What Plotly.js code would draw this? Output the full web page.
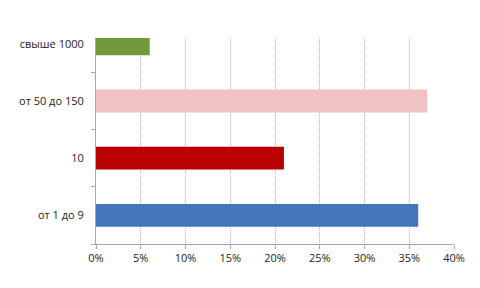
<!DOCTYPE html>
<html>
<head>
<meta charset="utf-8">
<script src="https://cdn.plot.ly/plotly-3.0.1.min.js"></script>
<style>
  html, body { margin: 0; padding: 0; background: #fff; }
  #chart { width: 480px; height: 288px; }
</style>
</head>
<body>
<div id="chart"></div>
<script>
// Categories listed bottom to top
const categories = ["от 1 до 9", "10", "от 50 до 150", "свыше 1000"];
const shares = [0.36, 0.21, 0.37, 0.06];
const fillColors = ["#4576BA", "#BA0000", "#F0C2C2", "#72983A"];
const tickValues = [0, 0.05, 0.10, 0.15, 0.20, 0.25, 0.30, 0.35, 0.40];
const tickLabels = ["0%", "5%", "10%", "15%", "20%", "25%", "30%", "35%", "40%"];

const trace = {
  type: "bar",
  orientation: "h",
  x: shares,
  y: categories,
  width: 0.4,
  marker: {
    color: fillColors,
    line: { width: 0 }
  },
  hoverinfo: "skip"
};

const axisFont = { family: "Open Sans, Liberation Sans, sans-serif", size: 11, color: "#222" };

const layout = {
  width: 480,
  height: 288,
  margin: { l: 96, r: 26, t: 38, b: 44, pad: 0 },
  paper_bgcolor: "#fff",
  plot_bgcolor: "#fff",
  showlegend: false,
  font: axisFont,
  xaxis: {
    range: [0, 0.40],
    tickvals: tickValues,
    ticktext: tickLabels,
    showgrid: true,
    gridcolor: "#B4B4B4",
    gridwidth: 1,
    griddash: "1px,1px",
    zeroline: false,
    showline: true,
    linecolor: "#A6A6A6",
    linewidth: 1,
    ticks: "outside",
    ticklen: 4,
    tickcolor: "#A6A6A6",
    tickfont: axisFont,
    fixedrange: true
  },
  yaxis: {
    type: "category",
    categoryorder: "array",
    categoryarray: categories,
    range: [-0.5, 3.1],
    showgrid: false,
    zeroline: false,
    showline: true,
    linecolor: "#A6A6A6",
    linewidth: 1,
    ticks: "outside",
    tickson: "boundaries",
    ticklen: 4,
    tickcolor: "#A6A6A6",
    ticklabelstandoff: 9,
    tickfont: axisFont,
    fixedrange: true
  }
};

Plotly.newPlot("chart", [trace], layout, { displayModeBar: false, staticPlot: true });
</script>
</body>
</html>
